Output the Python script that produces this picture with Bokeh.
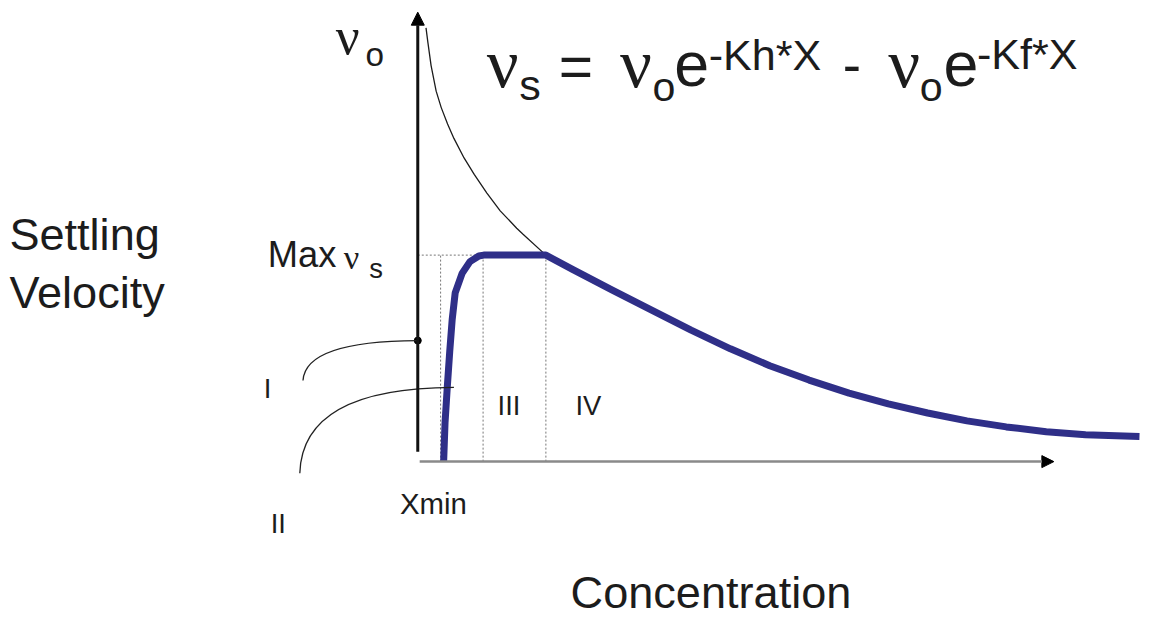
from bokeh.plotting import figure
from bokeh.models import Range1d, Arrow, NormalHead, ColumnDataSource
from bokeh.embed import file_html
from bokeh.resources import INLINE

# ---------------- data (concentration X, settling velocity V; v0 = 1) ----------------
# thin reference curve  v0*e^(-Kh*X)
thin_x = [0.10, 0.13, 0.18, 0.26, 0.34, 0.44, 0.54, 0.70, 0.86, 1.06, 1.27, 1.53, 1.63, 1.99]
thin_v = [1.00, 0.966, 0.913, 0.854, 0.816, 0.778, 0.745, 0.700, 0.662, 0.619, 0.578, 0.538, 0.524, 0.476]

# thick settling-velocity curve (rise, plateau at Max vs, decay)
vs_x = [0.378, 0.40, 0.435, 0.474, 0.513, 0.56, 0.669, 0.793, 0.933, 1.01, 1.99,
        2.41, 3.03, 3.65, 4.28, 4.90, 5.52, 6.14, 6.77, 7.39, 8.01, 8.63, 9.25, 9.88, 10.50, 11.35]
vs_v = [0.0, 0.09, 0.171, 0.254, 0.328, 0.389, 0.434, 0.461, 0.474, 0.476, 0.476,
        0.443, 0.396, 0.350, 0.303, 0.260, 0.221, 0.188, 0.158, 0.133, 0.112, 0.094, 0.080, 0.069, 0.062, 0.058]

max_vs = 0.476
zone_x = [0.33, 1.00, 1.99]          # Xmin | II/III | III/IV boundaries
axis_x = -0.03                       # position of velocity axis
axis_top = 1.036
axis_bottom = 0.0225
x_axis_end = 10.0
marker_v = 0.279                     # point on velocity axis

# pointer curves (quadratic): start, end, control
ptr_x0 = [-1.84, -1.89]
ptr_y0 = [0.187, -0.027]
ptr_x1 = [-0.03, 0.54]
ptr_y1 = [0.279, 0.171]
ptr_cx = [-1.80, -1.85]
ptr_cy = [0.278, 0.170]

# ---------------- labels (reference-pixel placement, baseline) ----------------
SANS = "Liberation Sans"
SERIF = "Liberation Serif"
label_text = ["Settling", "Velocity", "Concentration", "Max", "ν", "s", "ν", "o",
              "I", "II", "III", "IV", "Xmin",
              "ν", "s", "=", "ν", "o", "e", "-Kh*X", "-", "ν", "o", "e", "-Kf*X"]
label_px = [9, 9, 578, 271, 348, 374, 340, 370,
            267, 274, 504, 583, 405,
            493, 526, 566, 628, 661, 683, 718, 854, 900, 932, 956, 990]
label_py = [258, 317, 625, 275, 276, 286, 57, 68,
            409, 547, 426, 426, 527,
            91, 103, 90, 91, 105, 90, 73, 87, 91, 105, 90, 72]
label_size = [46, 46, 46, 37, 35, 28, 54, 34,
              28, 28, 28, 28, 30,
              72, 44, 60, 72, 42, 64, 44, 56, 72, 42, 64, 44]
label_font = [SANS, SANS, SANS, SANS, SERIF, SANS, SERIF, SANS,
              SANS, SANS, SANS, SANS, SANS,
              SERIF, SANS, SANS, SERIF, SANS, SANS, SANS, SANS, SERIF, SANS, SANS, SANS]

# ---------------- layout mapping ----------------
W, H = 1151, 621
REF_W, REF_H = 1167, 637
OX, SX = 425.0, 64.3    # reference px of X=0, px per X unit
OY, SY = 473.0, 445.0   # reference px of V=0, px per V unit
FS = 0.98               # font scale (canvas / reference)
BASE_FIX = 0.38         # renderer places alphabetic baseline lower; lift by this many em


def cx(px):
    return (px - OX) / SX


def cv(py):
    return (OY - py) / SY


p = figure(width=W, height=H, output_backend="svg", toolbar_location=None,
           x_range=Range1d(cx(0), cx(REF_W)), y_range=Range1d(cv(REF_H), cv(0)),
           x_axis_type=None, y_axis_type=None, min_border=0,
           outline_line_color=None, background_fill_color="white",
           border_fill_color="white")
p.grid.visible = False

INK = "#1c1c1c"
BLUE = "#2f2f88"

# dotted guide lines
p.segment(x0=[axis_x] + zone_x, y0=[max_vs, 0, 0, 0],
          x1=[zone_x[-1]] + zone_x, y1=[max_vs] * 4,
          line_color="#777777", line_width=1, line_dash="2 2")

# thin exponential curve
p.line(thin_x, thin_v, line_color=INK, line_width=1.3)

# settling-velocity curve
p.line(vs_x, vs_v, line_color=BLUE, line_width=7, line_join="round")

# axes with arrows
p.add_layout(Arrow(end=NormalHead(size=12, fill_color="black", line_color="black"),
                   x_start=0.0, y_start=0.0, x_end=x_axis_end, y_end=0.0,
                   line_color="#8a8a8a", line_width=2.5))
p.add_layout(Arrow(end=NormalHead(size=13, fill_color="black", line_color="black"),
                   x_start=axis_x, y_start=axis_bottom, x_end=axis_x, y_end=axis_top,
                   line_color="#111111", line_width=3))

# point on the velocity axis
p.scatter([axis_x], [marker_v], size=7, color="black")

# pointer curves from I and II
p.quadratic(x0=ptr_x0, y0=ptr_y0, x1=ptr_x1, y1=ptr_y1, cx=ptr_cx, cy=ptr_cy,
            line_color="#222222", line_width=1.3)

# labels
src = ColumnDataSource(dict(
    x=[cx(v) for v in label_px],
    y=[cv(py - BASE_FIX * s) for py, s in zip(label_py, label_size)],
    text=label_text,
    size=[f"{s * FS:.1f}px" for s in label_size],
    font=label_font,
))
p.text(x="x", y="y", text="text", source=src, text_font="font",
       text_font_size="size", text_color=INK,
       text_align="left", text_baseline="alphabetic")

open("out.html", "w").write(file_html(p, INLINE))
